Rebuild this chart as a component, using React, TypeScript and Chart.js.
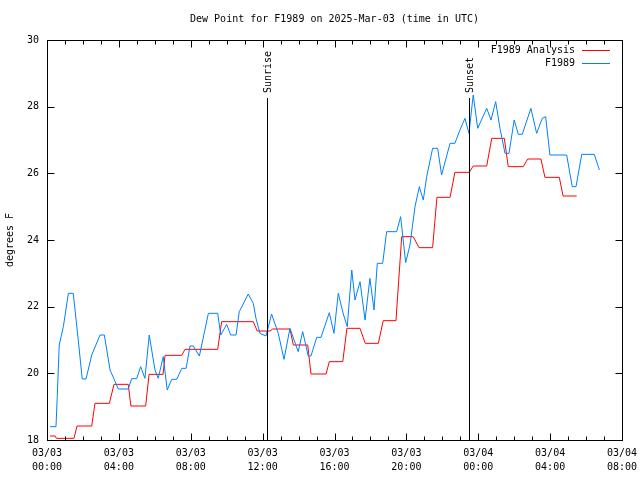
import React, { useEffect, useRef } from "react";
import { Chart, registerables } from "chart.js";

Chart.register(...registerables);

// ---- Data (hours since 2025-03-03 00:00 UTC) ----
const titleText = "Dew Point for F1989 on 2025-Mar-03 (time in UTC)";
const yAxisTitle = "degrees F";
const analysisLabel = "F1989 Analysis";
const obsLabel = "F1989";

const obsHours = [
  0.17, 0.5, 0.57, 0.68, 0.91, 1.19, 1.46, 1.74, 1.96, 2.17, 2.49, 2.95, 3.19, 3.51, 3.97,
  4.52, 4.71, 4.99, 5.21, 5.45, 5.69, 6.01, 6.19, 6.47, 6.69, 6.94, 7.22, 7.5, 7.74, 7.96,
  8.14, 8.48, 8.98, 9.5, 9.67, 10.0, 10.22, 10.52, 10.7, 11.2, 11.48, 11.63, 11.85, 12.19,
  12.5, 12.87, 13.19, 13.52, 13.98, 14.23, 14.54, 14.69, 15.01, 15.25, 15.71, 15.97, 16.21,
  16.49, 16.71, 16.96, 17.14, 17.42, 17.7, 17.97, 18.2, 18.38, 18.68, 18.9, 19.46, 19.68,
  19.96, 20.2, 20.48, 20.72, 20.94, 21.13, 21.46, 21.74, 21.96, 22.43, 22.7, 22.98, 23.26,
  23.48, 23.72, 23.97, 24.47, 24.71, 24.97, 25.21, 25.49, 25.71, 26.0, 26.23, 26.45, 26.93,
  27.25, 27.56, 27.75, 27.99, 28.92, 29.23, 29.44, 29.76, 30.46, 30.74,
];
const obsValues = [
  18.4, 18.4, 19.3, 20.85, 21.4, 22.4, 22.4, 21.0, 19.83, 19.83, 20.55, 21.15, 21.15, 20.1, 19.53,
  19.53, 19.84, 19.84, 20.2, 19.85, 21.15, 20.1, 19.85, 20.5, 19.5, 19.82, 19.82, 20.15, 20.15, 20.82,
  20.82, 20.52, 21.8, 21.8, 21.15, 21.47, 21.15, 21.15, 21.85, 22.38, 22.1, 21.65, 21.2, 21.12,
  21.78, 21.2, 20.42, 21.35, 20.65, 21.25, 20.52, 20.52, 21.08, 21.08, 21.82, 21.2, 22.4,
  21.78, 21.4, 23.1, 22.2, 22.75, 21.6, 22.85, 21.9, 23.3, 23.3, 24.25, 24.25, 24.7,
  23.32, 23.85, 25.0, 25.6, 25.2, 25.9, 26.75, 26.75, 25.95, 26.9, 26.9, 27.3, 27.65,
  27.2, 28.35, 27.35, 27.95, 27.6, 28.15, 27.35, 26.6, 26.6, 27.6, 27.17, 27.17, 27.95,
  27.2, 27.65, 27.7, 26.55, 26.55, 25.6, 25.6, 26.57, 26.57, 26.1,
];

const analysisHours = [
  0.17, 0.45, 0.53, 1.5, 1.67, 2.49, 2.67, 3.47, 3.73, 4.52, 4.67, 5.49, 5.68, 6.46, 6.57,
  7.5, 7.68, 9.5, 9.72, 11.48, 11.7, 12.41, 12.56, 13.52, 13.71, 14.51, 14.69, 15.53, 15.71,
  16.46, 16.69, 17.42, 17.71, 18.44, 18.71, 19.42, 19.74, 20.38, 20.7, 21.46, 21.7, 22.43,
  22.7, 23.5, 23.72, 24.47, 24.75, 25.45, 25.67, 26.51, 26.75, 27.49, 27.71, 28.51, 28.72, 29.48,
];
const analysisValues = [
  18.12, 18.12, 18.05, 18.05, 18.42, 18.42, 19.1, 19.1, 19.67, 19.67, 19.02, 19.02, 19.97, 19.97, 20.54,
  20.54, 20.72, 20.72, 21.55, 21.55, 21.27, 21.27, 21.33, 21.33, 20.85, 20.85, 19.98, 19.98, 20.35,
  20.35, 21.35, 21.35, 20.9, 20.9, 21.58, 21.58, 24.1, 24.1, 23.77, 23.77, 25.28, 25.28,
  26.03, 26.03, 26.22, 26.22, 27.05, 27.05, 26.2, 26.2, 26.43, 26.43, 25.88, 25.88, 25.32, 25.32,
];

const sunEvents = ["Sunrise", "Sunset"];
const sunHours = [12.26, 23.5];

const xTickHours = [0, 4, 8, 12, 16, 20, 24, 28, 32];
const yTickValues = [18, 20, 22, 24, 26, 28, 30];

const FONT = '"DejaVu Sans Mono", "Liberation Mono", monospace';
const RED = "#ff0000";
const BLUE = "#0080ff";

function pad2(n: number) {
  return n < 10 ? "0" + n : "" + n;
}
function xLabel(h: number): string[] {
  const day = 3 + Math.floor(h / 24);
  const hr = Math.round(h % 24);
  return ["03/" + pad2(day), pad2(hr) + ":00"];
}

const gnuplotDecor = {
  id: "gnuplotDecor",
  afterDatasetsDraw(chart: any) {
    const { ctx, chartArea: a, scales } = chart;
    const x = scales.x;
    const y = scales.y;
    ctx.save();
    ctx.strokeStyle = "#000";
    ctx.lineWidth = 1;
    const L = Math.round(a.left) + 0.5;
    const R = Math.round(a.right) + 0.5;
    const T = Math.round(a.top) + 0.5;
    const B = Math.round(a.bottom) + 0.5;
    const seg = (x1: number, y1: number, x2: number, y2: number) => {
      ctx.beginPath();
      ctx.moveTo(x1, y1);
      ctx.lineTo(x2, y2);
      ctx.stroke();
    };
    // frame
    ctx.strokeRect(L, T, R - L, B - T);
    // y ticks (mirrored)
    for (const v of yTickValues) {
      const py = Math.round(y.getPixelForValue(v)) + 0.5;
      seg(L, py, L + 7, py);
      seg(R - 7, py, R, py);
    }
    // x ticks, minor each hour (mirrored)
    const maxH = xTickHours[xTickHours.length - 1];
    for (let h = 0; h <= maxH; h++) {
      const len = xTickHours.includes(h) ? 7 : 4;
      const px = Math.round(x.getPixelForValue(h)) + 0.5;
      seg(px, B, px, B - len);
      seg(px, T, px, T + len);
    }
    // sunrise / sunset
    ctx.fillStyle = "#000";
    ctx.font = "10px " + FONT;
    sunEvents.forEach((name, i) => {
      const px = Math.round(x.getPixelForValue(sunHours[i])) + 0.5;
      const topY = a.top + 58;
      seg(px, topY, px, B);
      ctx.save();
      ctx.translate(px + 1, topY - 5);
      ctx.rotate(-Math.PI / 2);
      ctx.textAlign = "left";
      ctx.textBaseline = "middle";
      ctx.fillText(name, 0, 0);
      ctx.restore();
    });
    // title
    ctx.textAlign = "center";
    ctx.textBaseline = "middle";
    ctx.fillText(titleText, (a.left + a.right) / 2, a.top - 21);
    // y axis title
    ctx.save();
    ctx.translate(10, (a.top + a.bottom) / 2);
    ctx.rotate(-Math.PI / 2);
    ctx.fillText(yAxisTitle, 0, 0);
    ctx.restore();
    // legend
    const items = [
      { label: analysisLabel, color: RED },
      { label: obsLabel, color: BLUE },
    ];
    items.forEach((it, i) => {
      const ly = Math.round(a.top + 10 + i * 12.5) + 0.5;
      ctx.textAlign = "right";
      ctx.fillStyle = "#000";
      ctx.fillText(it.label, a.right - 47, ly);
      ctx.strokeStyle = it.color;
      seg(a.right - 40, ly, a.right - 12, ly);
      ctx.strokeStyle = "#000";
    });
    ctx.restore();
  },
};

export default function App() {
  const ref = useRef<HTMLCanvasElement>(null);
  useEffect(() => {
    document.body.style.margin = "0";
    const canvas = ref.current!;
    const chart = new Chart(canvas, {
      type: "line",
      data: {
        datasets: [
          {
            label: analysisLabel,
            data: analysisHours.map((h, i) => ({ x: h, y: analysisValues[i] })),
            borderColor: RED,
            borderWidth: 1,
            pointRadius: 0,
            tension: 0,
            fill: false,
            order: 1,
          },
          {
            label: obsLabel,
            data: obsHours.map((h, i) => ({ x: h, y: obsValues[i] })),
            borderColor: BLUE,
            borderWidth: 1,
            pointRadius: 0,
            tension: 0,
            fill: false,
            order: 0,
          },
        ],
      },
      options: {
        responsive: false,
        animation: false,
        devicePixelRatio: 1,
        layout: { padding: { top: 40, right: 18, left: 0, bottom: 0 } },
        plugins: {
          legend: { display: false },
          title: { display: false },
          tooltip: { enabled: false },
        },
        scales: {
          x: {
            type: "linear",
            min: 0,
            max: 32,
            grid: { display: false, drawTicks: false },
            border: { display: false },
            afterBuildTicks: (s: any) => {
              s.ticks = xTickHours.map((v) => ({ value: v }));
            },
            afterFit: (s: any) => {
              s.height = 40;
              s.paddingLeft = 0;
              s.paddingRight = 0;
            },
            ticks: {
              autoSkip: false,
              maxRotation: 0,
              minRotation: 0,
              padding: 6,
              color: "#000",
              font: { family: FONT, size: 10, lineHeight: 1.4 },
              callback: (v: any) => xLabel(Number(v)),
            },
          },
          y: {
            min: 18,
            max: 30,
            grid: { display: false, drawTicks: false },
            border: { display: false },
            afterBuildTicks: (s: any) => {
              s.ticks = yTickValues.map((v) => ({ value: v }));
            },
            afterFit: (s: any) => {
              s.width = 47;
            },
            ticks: {
              padding: 8,
              color: "#000",
              font: { family: FONT, size: 10 },
              callback: (v: any) => String(v),
            },
          },
        },
      },
      plugins: [gnuplotDecor],
    } as any);
    return () => chart.destroy();
  }, []);
  return (
    <div style={{ position: "fixed", left: 0, top: 0, width: 640, height: 480, background: "#fff" }}>
      <canvas ref={ref} width={640} height={480} />
    </div>
  );
}
